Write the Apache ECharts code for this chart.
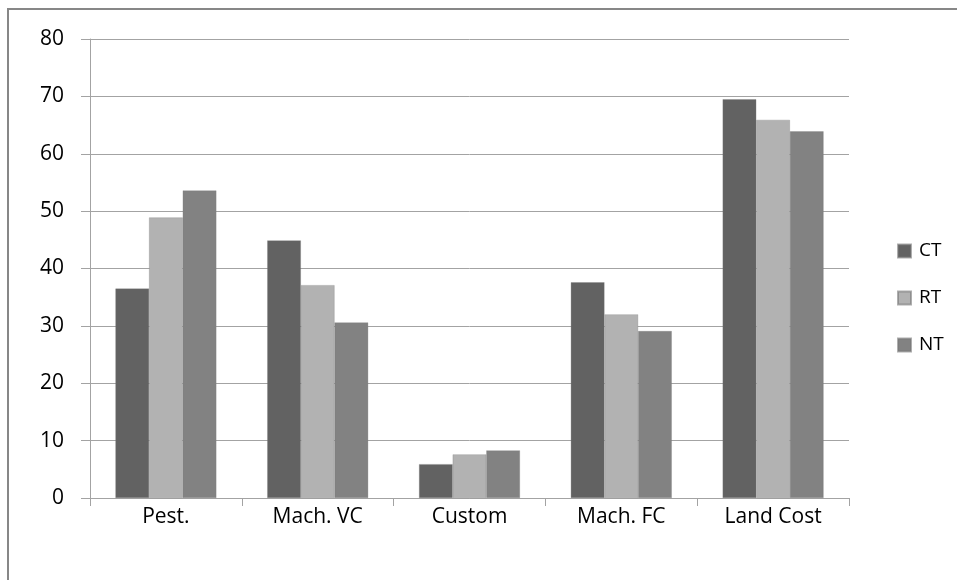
<!DOCTYPE html>
<html>
<head>
<meta charset="utf-8">
<script src="https://cdn.jsdelivr.net/npm/echarts@6/dist/echarts.min.js"></script>
<style>
  html, body { margin: 0; padding: 0; background: #fff; }
  #chart { width: 957px; height: 580px; }
</style>
</head>
<body>
<div id="chart"></div>
<script>
// Cost categories and values per tillage system
const categories = ['Pest.', 'Mach. VC', 'Custom', 'Mach. FC', 'Land Cost'];
const seriesNames = ['CT', 'RT', 'NT'];
const ctValues = [36.5, 44.9, 5.9, 37.6, 69.5];
const rtValues = [48.9, 37.1, 7.6, 32.0, 65.9];
const ntValues = [53.6, 30.6, 8.3, 29.1, 63.9];
const yTicks = { min: 0, max: 80, step: 10 };

const colors = ['#626262', '#b2b2b2', '#828282'];
const axisGray = '#a3a3a3';
const font = '"Open Sans", "Noto Sans", sans-serif';

const chart = echarts.init(document.getElementById('chart'), null, { renderer: 'canvas' });

const values = [ctValues, rtValues, ntValues];

chart.setOption({
  animation: false,
  backgroundColor: '#ffffff',
  color: colors,
  graphic: [{
    type: 'rect',
    shape: { x: 8, y: 9, width: 1200, height: 1000 },
    style: { fill: 'none', stroke: '#878787', lineWidth: 2 },
    silent: true
  }],
  grid: { left: 90, right: 108, top: 39, bottom: 82, containLabel: false },
  legend: {
    orient: 'vertical',
    left: 892,
    top: 236,
    itemWidth: 13,
    itemHeight: 13,
    itemGap: 27,
    icon: 'rect',
    data: seriesNames,
    textStyle: { fontFamily: font, fontSize: 19, color: '#000', lineHeight: 20, padding: [0, 0, 0, 3] }
  },
  xAxis: {
    type: 'category',
    data: categories,
    boundaryGap: true,
    axisLine: { show: true, lineStyle: { color: axisGray, width: 1 } },
    axisTick: { show: true, length: 8, inside: false, lineStyle: { color: axisGray } },
    axisLabel: { fontFamily: font, fontSize: 21, color: '#000', margin: 9 },
    splitLine: { show: false }
  },
  yAxis: {
    type: 'value',
    min: yTicks.min,
    max: yTicks.max,
    interval: yTicks.step,
    axisLine: { show: true, lineStyle: { color: axisGray, width: 1 } },
    axisTick: { show: true, length: 9, inside: false, lineStyle: { color: axisGray } },
    axisLabel: { fontFamily: font, fontSize: 21, color: '#000', margin: 26 },
    splitLine: { show: true, lineStyle: { color: axisGray, width: 1 } }
  },
  series: seriesNames.map((name, i) => ({
    name: name,
    type: 'bar',
    data: values[i],
    barGap: '0%',
    barCategoryGap: '33.5%',
    itemStyle: { color: colors[i], borderColor: 'rgba(120,120,120,0.6)', borderWidth: 0.5 }
  }))
});
</script>
</body>
</html>
